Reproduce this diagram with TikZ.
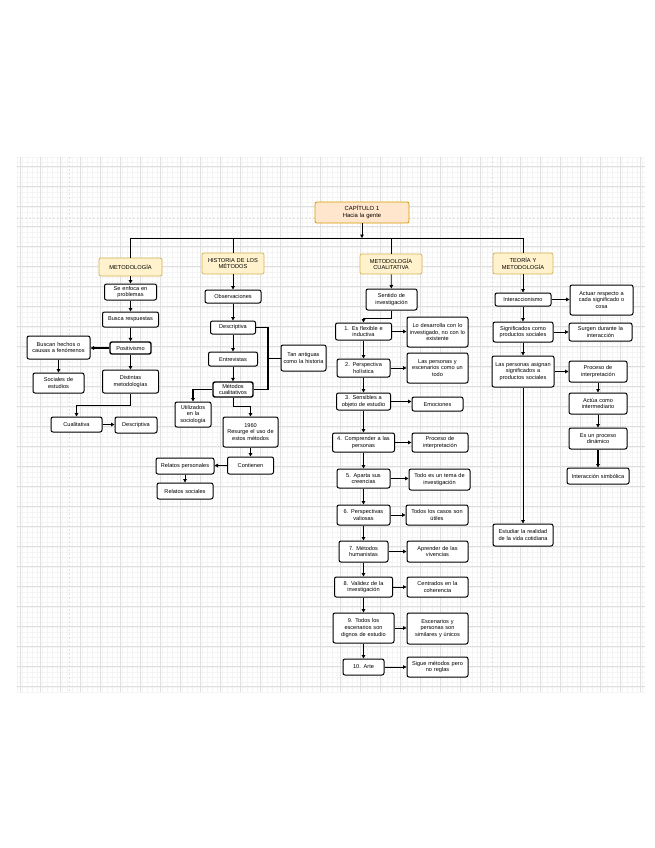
\documentclass[tikz,border=0pt]{standalone}
\usepackage{fontspec}
\setmainfont{Liberation Sans}
\usetikzlibrary{arrows.meta}
\definecolor{catfill}{HTML}{FFF2CC}
\definecolor{catdraw}{HTML}{D6B656}
\definecolor{chapfill}{HTML}{FFE6CC}
\definecolor{chapdraw}{HTML}{D79B00}
\definecolor{gminor}{HTML}{F4F4F4}
\definecolor{gmajor}{HTML}{E0E0E0}
\begin{document}
\begin{tikzpicture}[x=1pt,y=-1pt,
  box/.style={draw=black, line width=1pt, rounded corners=2pt, fill=white, align=center, inner sep=1pt, font=\fontsize{5.6}{6.6}\selectfont},
  thickbox/.style={box, line width=1.4pt},
  cat/.style={box, draw=catdraw, fill=catfill, line width=0.8pt, font=\fontsize{5.7}{6.7}\selectfont},
  chap/.style={box, draw=chapdraw, fill=chapfill, line width=0.8pt, font=\fontsize{5.9}{6.9}\selectfont},
  arr/.style={-{Triangle[length=3.5pt,width=3.6pt]}, line width=0.8pt},
  tarr/.style={arr, line width=1.3pt},
  ln/.style={line width=0.8pt},
  tln/.style={line width=1.3pt},
  gl/.style={line width=0.3pt, draw=gminor},
  gm/.style={line width=0.5pt, draw=gmajor},
  pb/.style={line width=0.6pt, draw=gmajor, dash pattern=on 2pt off 2pt}
]
\useasboundingbox (0,0) rectangle (655,848);
\fill[white] (0,0) rectangle (655,848);
% grid
\foreach \x in {17,22,...,645} \draw[gl] (\x,157) -- (\x,692);
\foreach \y in {157,162,...,692} \draw[gl] (17,\y) -- (645,\y);
\foreach \x in {20,40,...,640} \draw[gm] (\x,157) -- (\x,692);
\foreach \y in {166,186,...,686} \draw[gm] (17,\y) -- (645,\y);
\draw[pb] (69,157) -- (69,692);
\draw[pb] (492,157) -- (492,692);
\draw[pb] (17,218) -- (645,218);

% chapter and categories
\node[chap, minimum width=94, minimum height=21, text width=90] (chap) at (362,212.5) {CAPÍTULO 1\\Hacia la gente};
\node[cat, minimum width=63, minimum height=18, text width=60] (met) at (130.5,267) {METODOLOGÍA};
\node[cat, minimum width=62, minimum height=21, text width=60] (his) at (233,263.5) {HISTORIA DE LOS\\MÉTODOS};
\node[cat, minimum width=62, minimum height=20, text width=60] (mcual) at (391,264) {METODOLOGÍA\\CUALITATIVA};
\node[cat, minimum width=60, minimum height=21, text width=58] (teo) at (523,263.5) {TEORÍA Y\\METODOLOGÍA};
\coordinate (jn) at (362,238);
\coordinate (hl) at (130.5,238);
\coordinate (hr) at (523,238);
\draw[arr] (chap.south) -- (jn);
\draw[ln] (hl) -- (hr);
\draw[ln] (hl) -- (met.north);
\draw[ln] (his.north |- hl) -- (his.north);
\draw[ln] (mcual.north |- hl) -- (mcual.north);
\draw[ln] (hr) -- (teo.north);

% METODOLOGIA
\node[box, minimum width=52, minimum height=16, text width=50] (se) at (130.5,292) {Se enfoca en\\problemas};
\node[box, minimum width=56, minimum height=15, text width=54] (bus) at (130.5,319.5) {Busca respuestas};
\node[thickbox, minimum width=41, minimum height=12, text width=39] (pos) at (130.5,348) {Positivismo};
\node[box, minimum width=63, minimum height=23, text width=61] (buscan) at (58.5,347.5) {Buscan hechos o\\causas a fenómenos};
\node[box, minimum width=51, minimum height=20, text width=49] (soc) at (58.5,383) {Sociales de\\estudios};
\node[box, minimum width=56, minimum height=23, text width=54] (dist) at (130.5,381.5) {Distintas\\metodologías};
\node[box, minimum width=51, minimum height=15, text width=49] (cual) at (76.5,424.5) {Cualitativa};
\node[box, minimum width=42, minimum height=16, text width=40] (desc1) at (136,425) {Descriptiva};
\draw[arr] (met) -- (se);
\draw[arr] (se) -- (bus);
\draw[arr] (bus) -- (pos);
\draw[tarr] (pos.west) -- (pos.west -| buscan.east);
\draw[arr] (buscan) -- (soc);
\draw[arr] (pos) -- (dist);
\draw[tarr] (dist.south) -- ++(0,12) -| (cual.north);
\draw[arr] (cual.east) -- (cual.east -| desc1.west);

% HISTORIA
\node[box, minimum width=56, minimum height=13, text width=54] (obs) at (233,296.5) {Observaciones};
\node[box, minimum width=45, minimum height=13, text width=43] (desc2) at (233,327.5) {Descriptiva};
\node[box, minimum width=49, minimum height=14, text width=47] (ent) at (233,359) {Entrevistas};
\node[thickbox, minimum width=40, minimum height=15, text width=38] (metc) at (233,389.5) {Métodos\\cualitativos};
\node[box, minimum width=45, minimum height=26, text width=43] (antig) at (303.5,358) {Tan antiguas\\como la historia};
\node[box, minimum width=36, minimum height=25, text width=34] (util) at (193,414.5) {Utilizados\\en la\\sociología};
\node[box, minimum width=55, minimum height=30, text width=53] (r1960) at (250.5,432) {1960\\Resurge el uso de\\estos métodos};
\node[box, minimum width=46, minimum height=17, text width=44] (cont) at (250.5,465.5) {Contienen};
\node[box, minimum width=58, minimum height=16, text width=56] (rp) at (185,466) {Relatos personales};
\node[box, minimum width=56, minimum height=16, text width=54] (rs) at (185,491) {Relatos sociales};
\coordinate (brk) at (268,358);
\draw[arr] (his) -- (obs);
\draw[arr] (obs) -- (desc2);
\draw[arr] (desc2) -- (ent);
\draw[arr] (ent) -- (metc);
\draw[tln] (desc2.east) -| (brk) |- (metc.east);
\draw[ln] (antig.west) -- (brk);
\draw[tarr] (metc.west) -| (util.north);
\draw[arr] (metc.south) -- ++(0,9) -| (r1960.north);
\draw[arr] (r1960) -- (cont);
\draw[arr] (cont.west) -- (cont.west -| rp.east);
\draw[arr] (rp) -- (rs);

% METODOLOGIA CUALITATIVA
\node[box, minimum width=51, minimum height=21, text width=49] (sent) at (391.5,299.5) {Sentido de\\investigación};
\node[box, minimum width=56, minimum height=17, text width=54] (q1) at (363.5,331.5) {1. Es flexible e\\inductiva};
\node[box, minimum width=61, minimum height=30, text width=59] (r1) at (437.5,332) {Lo desarrolla con lo\\investigado, no con lo\\existente};
\node[box, minimum width=53, minimum height=18, text width=51] (q2) at (363.5,368) {2. Perspectiva\\holística};
\node[box, minimum width=61, minimum height=30, text width=59] (r2) at (437.5,368) {Las personas y\\escenarios como un\\todo};
\node[box, minimum width=54, minimum height=17, text width=52] (q3) at (363.5,401.5) {3. Sensibles a\\objeto de estudio};
\node[box, minimum width=51, minimum height=14, text width=49] (r3) at (437.5,404) {Emociones};
\node[box, minimum width=62, minimum height=19, text width=60] (q4) at (363.5,442.5) {4. Comprender a las\\personas};
\node[box, minimum width=56, minimum height=19, text width=54] (r4) at (440,442.5) {Proceso de\\interpretación};
\node[box, minimum width=53, minimum height=19, text width=51] (q5) at (363.5,478.5) {5. Aparta sus\\creencias};
\node[box, minimum width=61, minimum height=21, text width=59] (r5) at (439.5,479.5) {Todo es un tema de\\investigación};
\node[box, minimum width=53, minimum height=20, text width=51] (q6) at (363.5,515) {6. Perspectivas\\valiosas};
\node[box, minimum width=62, minimum height=20, text width=60] (r6) at (437,515) {Todos los casos son\\útiles};
\node[box, minimum width=49, minimum height=21, text width=47] (q7) at (363.5,551.5) {7. Métodos\\humanistas};
\node[box, minimum width=61, minimum height=21, text width=59] (r7) at (437.5,551.5) {Aprender de las\\vivencias};
\node[box, minimum width=58, minimum height=20, text width=56] (q8) at (363.5,587) {8. Validez de la\\investigación};
\node[box, minimum width=61, minimum height=20, text width=59] (r8) at (437.5,587) {Centrados en la\\coherencia};
\node[box, minimum width=61, minimum height=30, text width=59] (q9) at (363.5,628) {9. Todos los\\escenarios son\\dignos de estudio};
\node[box, minimum width=61, minimum height=31, text width=59] (r9) at (437.5,628.5) {Escenarios y\\personas son\\similares y únicos};
\node[box, minimum width=41, minimum height=16, text width=39] (q10) at (363.5,667) {10. Arte};
\node[box, minimum width=61, minimum height=20, text width=59] (r10) at (437.5,667) {Sigue métodos pero\\no reglas};
\draw[arr] (mcual) -- (sent);
\draw[arr] (sent.south) -- ++(0,8) -| (q1.north);
\foreach \a/\b in {q1/q2,q2/q3,q3/q4,q4/q5,q5/q6,q6/q7,q7/q8,q8/q9,q9/q10}
  \draw[arr] (\a) -- (\b);
\foreach \i in {1,...,10}
  \draw[arr] (q\i.east) -- (q\i.east -| r\i.west);

% TEORIA
\node[box, minimum width=56, minimum height=13, text width=54] (inter) at (523,299.5) {Interaccionismo};
\node[box, minimum width=63, minimum height=30, text width=61] (act) at (601.5,300) {Actuar respecto a\\cada significado o\\cosa};
\node[box, minimum width=60, minimum height=20, text width=58] (sig) at (523,332) {Significados como\\productos sociales};
\node[box, minimum width=63, minimum height=18, text width=61] (sur) at (600.5,332) {Surgen durante la\\interacción};
\node[box, minimum width=62, minimum height=31, text width=60] (pers) at (523,371.5) {Las personas asignan\\significados a\\productos sociales};
\node[box, minimum width=58, minimum height=21, text width=56] (proc) at (598,371.5) {Proceso de\\interpretación};
\node[box, minimum width=58, minimum height=21, text width=56] (actua) at (598,403.5) {Actúa como\\intermediario};
\node[box, minimum width=58, minimum height=21, text width=56] (din) at (598,438.5) {Es un proceso\\dinámico};
\node[box, minimum width=62, minimum height=16, text width=60] (simb) at (598,476) {Interacción simbólica};
\node[box, minimum width=60, minimum height=22, text width=58] (est) at (523,535) {Estudiar la realidad\\de la vida cotidiana};
\draw[arr] (teo) -- (inter);
\draw[arr] (inter) -- (sig);
\draw[arr] (sig) -- (pers);
\draw[arr] (pers) -- (est);
\draw[arr] (inter.east) -- (inter.east -| act.west);
\draw[arr] (sig.east) -- (sig.east -| sur.west);
\draw[arr] (pers.east) -- (pers.east -| proc.west);
\draw[arr] (proc) -- (actua);
\draw[arr] (actua) -- (din);
\draw[tarr] (din) -- (simb);
\end{tikzpicture}
\end{document}
